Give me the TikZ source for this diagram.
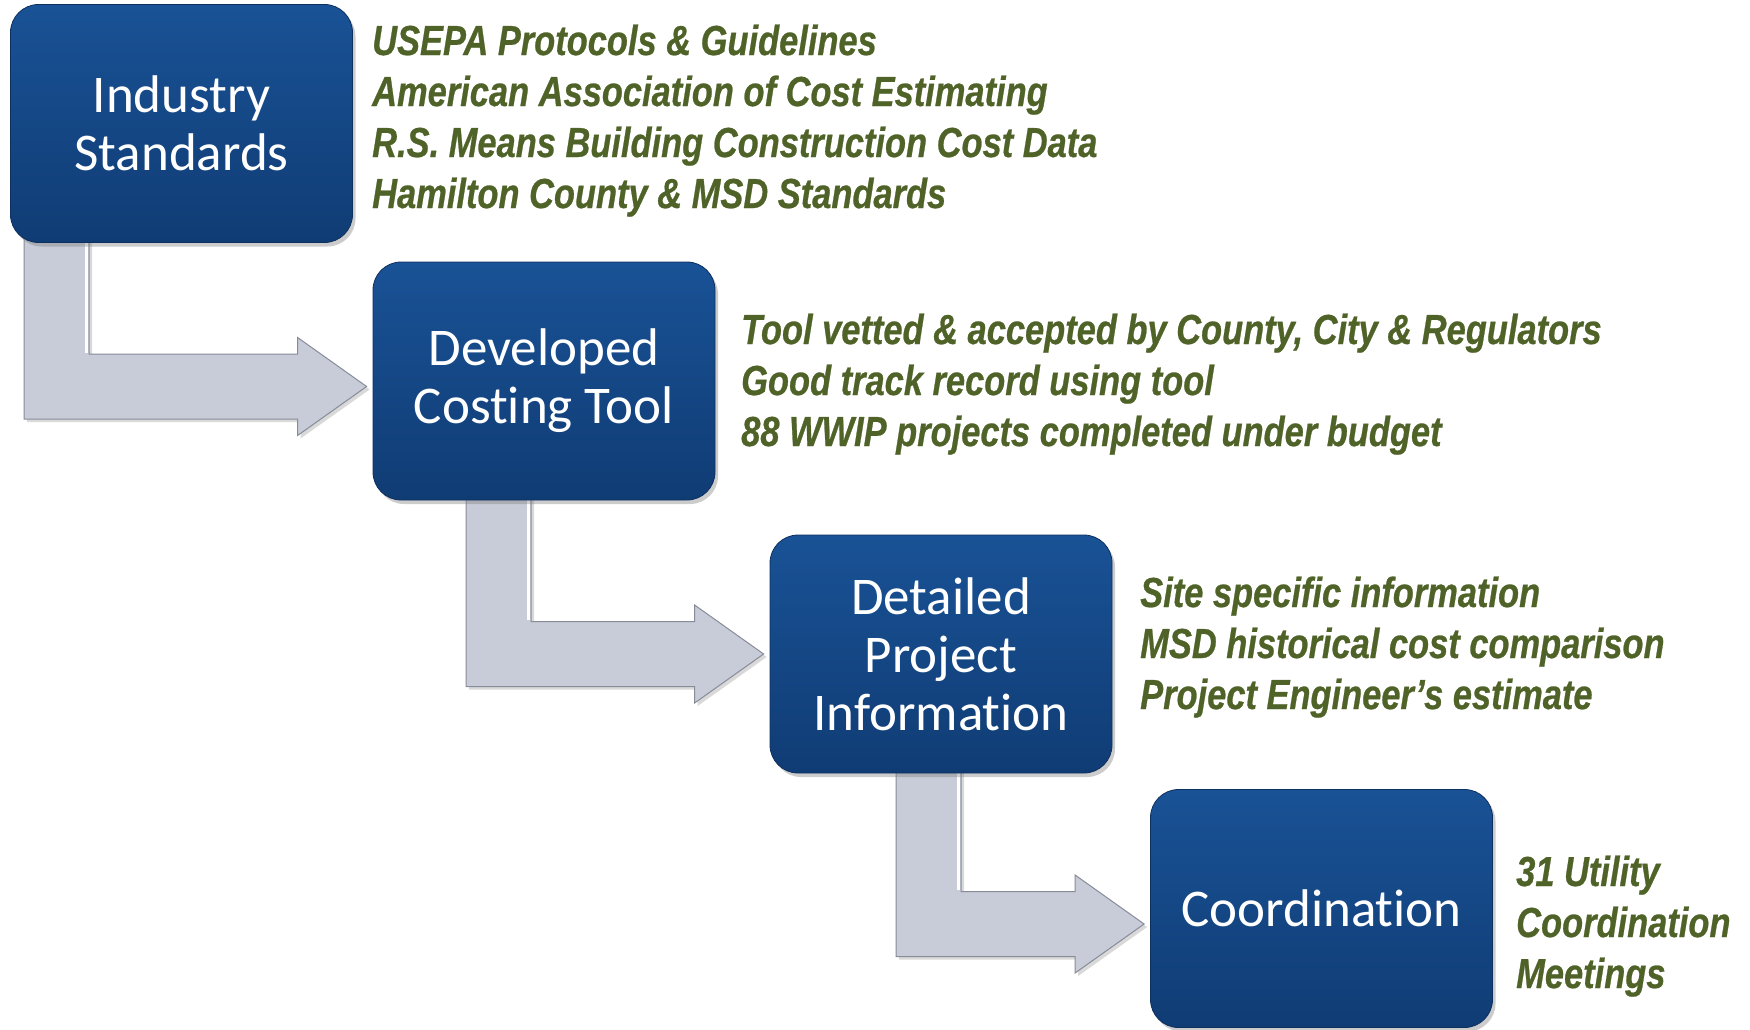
\documentclass[tikz,border=0pt]{standalone}
\usepackage{fontspec}
\usetikzlibrary{calc,shadows,backgrounds}
\newfontfamily\boxfont[Ligatures={NoCommon}]{Carlito}
\newfontfamily\notefont[FakeStretch=0.82,FakeBold=0.6]{Liberation Sans}
\definecolor{boxtop}{RGB}{25,82,150}
\definecolor{boxbot}{RGB}{16,60,116}
\definecolor{boxline}{RGB}{14,48,95}
\definecolor{notegreen}{RGB}{79,98,40}
\definecolor{arrowgray}{RGB}{200,204,216}
\definecolor{arrowline}{RGB}{135,140,152}
\tikzset{
  stepbox/.style={rectangle,rounded corners=28pt,minimum width=342pt,minimum height=238pt,
    top color=boxtop,bottom color=boxbot,draw=boxline,line width=0.8pt,
    drop shadow={shadow xshift=3pt,shadow yshift=-4pt,opacity=0.4},
    text=white,align=center,inner sep=0pt,font=\boxfont\fontsize{53}{58}\selectfont},
  note/.style={anchor=base west,align=left,inner sep=0pt,text=notegreen,
    font=\notefont\bfseries\itshape\fontsize{42}{51}\selectfont},
  grayarrow/.style={fill=arrowgray,draw=arrowline,line width=1pt,
    drop shadow={shadow xshift=3pt,shadow yshift=-3pt,opacity=0.3}}
}
% bent arrow: from box, to box, left x of shaft, shift of tip
\newcommand\stepArrow[4]{%
  \coordinate (tip) at ($(#2.west)+(-6,#4)$);
  \path[grayarrow] ($(#3,0 |- #1.south)+(0,-12)$) -- ($(#3,0 |- tip)+(0,32.5)$)
    -- ($(tip)+(-69,32.5)$) -- ($(tip)+(-69,49)$) -- (tip) -- ($(tip)+(-69,-49)$)
    -- ($(tip)+(-69,-32.5)$) -- ($(#3+65,0 |- tip)+(0,-32.5)$)
    -- ($(#3+65,0 |- #1.south)+(0,-12)$) -- cycle;
  \draw[white,line width=3pt] ($(#3+62,0 |- #1.south)$) -- ($(#3+62,0 |- tip)+(0,-34)$);
}
\begin{document}
\begin{tikzpicture}[x=1pt,y=-1pt]
\useasboundingbox (0,0) rectangle (1750,1029);

\node[stepbox] (ind) at (181.5,123.5) {Industry\\Standards};
\node[stepbox] (cost) at (544,381) {Developed\\Costing Tool};
\node[stepbox] (proj) at (941,654) {Detailed\\Project\\Information};
\node[stepbox] (coord) at (1321.5,908.5) {Coordination};

\begin{scope}[on background layer]
\stepArrow{ind}{cost}{24}{5.5}
\stepArrow{cost}{proj}{466}{0}
\stepArrow{proj}{coord}{896}{15.5}
\end{scope}

% notes: anchored at the baseline of their last line
\node[note] (indnote) at (372,208) {USEPA Protocols \& Guidelines\\American Association of Cost Estimating\\R.S. Means Building Construction Cost Data\\Hamilton County \& MSD Standards};
\node[note] (costnote) at (741,446) {Tool vetted \& accepted by County, City \& Regulators\\Good track record using tool\\88 WWIP projects completed under budget};
\node[note] (projnote) at (1140,709) {Site specific information\\MSD historical cost comparison\\Project Engineer’s estimate};
\node[note] (coordnote) at (1516,988) {31 Utility\\Coordination\\Meetings};
\end{tikzpicture}
\end{document}
